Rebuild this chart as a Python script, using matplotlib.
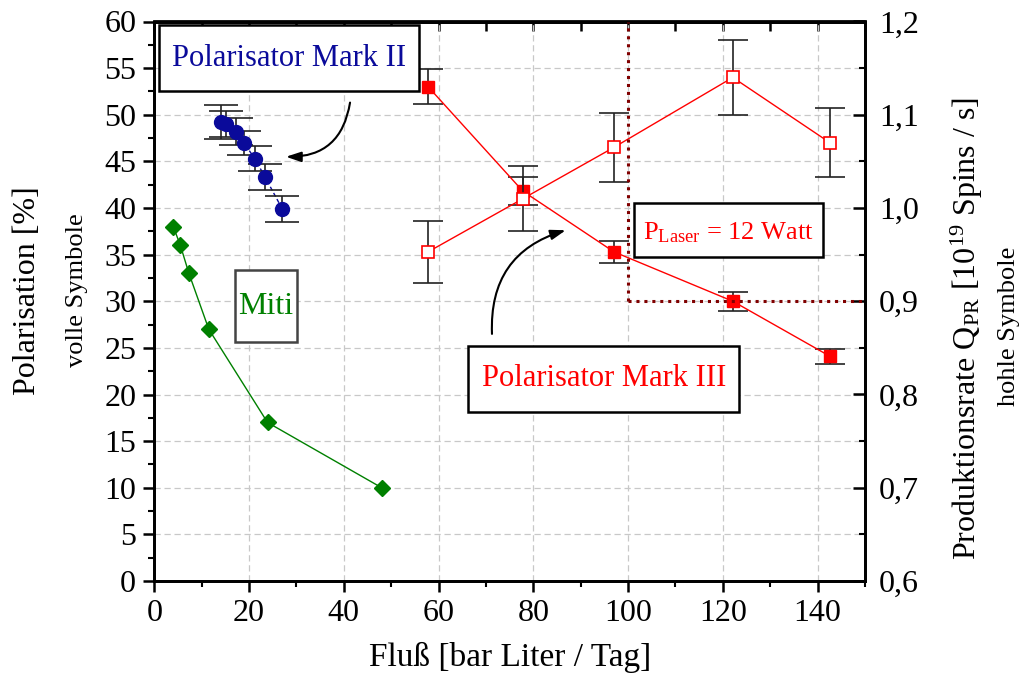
import matplotlib
matplotlib.use("Agg")
import matplotlib.pyplot as plt
from matplotlib.ticker import MultipleLocator, FuncFormatter, NullFormatter
from matplotlib.patches import Rectangle

plt.rcParams['font.family'] = ['Liberation Serif', 'DejaVu Serif']
plt.rcParams['mathtext.fontset'] = 'custom'
plt.rcParams['mathtext.rm'] = 'Liberation Serif'
plt.rcParams['mathtext.it'] = 'Liberation Serif:italic'

# Polarisator Mark II (filled circles, left axis)
mk2_flow = [14.0, 15.2, 17.2, 18.9, 21.2, 23.4, 27.0]
mk2_pol = [49.2, 49.0, 48.2, 47.0, 45.3, 43.3, 39.9]
mk2_err = [1.8, 1.4, 1.4, 1.3, 1.3, 1.4, 1.4]

# Miti (filled diamonds, left axis)
miti_flow = [4.0, 5.5, 7.3, 11.5, 23.9, 48.0]
miti_pol = [38, 36, 33, 27, 17, 10]

# Polarisator Mark III, polarisation (filled squares, left axis)
mk3_flow = [57.8, 77.8, 97.0, 122.1, 142.6]
mk3_pol = [53.0, 41.8, 35.3, 30.0, 24.1]
mk3_pol_err = [1.9, 1.5, 1.2, 1.0, 0.8]

# Polarisator Mark III, production rate (open squares, right axis)
mk3_rate = [0.953, 1.010, 1.065, 1.140, 1.070]
mk3_rate_err = [0.033, 0.035, 0.037, 0.040, 0.037]

laser_flow = 100
laser_rate = 0.9

navy = '#0a0a9a'
green = '#008000'
red = '#ff0000'
darkred = '#800000'

fig = plt.figure(figsize=(10.23, 6.74), dpi=100)
ax = fig.add_axes([154.3 / 1023, 1 - 581 / 674, (865 - 154.3) / 1023, (581 - 21.5) / 674])
ax2 = ax.twinx()

ax.set_xlim(0, 150)
ax.set_ylim(0, 60)
ax2.set_ylim(0.6, 1.2)

ax.grid(True, which='major', color='#c8c8c8', linestyle=(0, (5, 3)), linewidth=0.9)
ax.set_axisbelow(True)

# data
ax.plot(mk2_flow, mk2_pol, color=navy, lw=1, ls=(0, (3, 2)), zorder=3)
ax.errorbar(mk2_flow, mk2_pol, yerr=mk2_err, fmt='o', color=navy, ms=10,
            ecolor='#222222', elinewidth=1.2, capsize=12, capthick=1.2, zorder=4)
ax.plot(miti_flow, miti_pol, color=green, lw=1, marker='D', ms=8, zorder=4)
ax.errorbar(mk3_flow, mk3_pol, yerr=mk3_pol_err, fmt='s-', color=red, lw=1, ms=8,
            ecolor='#222222', elinewidth=1.2, capsize=11, capthick=1.2, zorder=4)
ax2.errorbar(mk3_flow, mk3_rate, yerr=mk3_rate_err, fmt='s-', color=red, lw=1, ms=9,
             mfc='white', mec=red, mew=1.2,
             ecolor='#222222', elinewidth=1.2, capsize=11, capthick=1.2, zorder=4)

# laser marker lines
ax2.plot([laser_flow, laser_flow], [laser_rate, 1.2], color=darkred, lw=2.2, ls=(0, (1, 1.6)), zorder=5)
ax2.plot([laser_flow, 150], [laser_rate, laser_rate], color=darkred, lw=2.2, ls=(0, (1, 1.6)), zorder=5)

# axes styling
for a in (ax, ax2):
    for s in a.spines.values():
        s.set_linewidth(2)
ax.xaxis.set_major_locator(MultipleLocator(20))
ax.xaxis.set_minor_locator(MultipleLocator(10))
ax.yaxis.set_major_locator(MultipleLocator(5))
ax.yaxis.set_minor_locator(MultipleLocator(2.5))
ax2.yaxis.set_major_locator(MultipleLocator(0.1))
ax2.yaxis.set_minor_locator(MultipleLocator(0.05))
ax2.yaxis.set_major_formatter(FuncFormatter(lambda v, p: f"{v:.1f}".replace('.', ',')))

ax.tick_params(axis='both', which='major', direction='out', length=8, width=1.8,
               labelsize=23, pad=5)
ax.tick_params(axis='both', which='minor', direction='out', length=4, width=1.5)
ax2.tick_params(axis='y', which='major', direction='in', length=9, width=1.8, labelsize=23, pad=10)
ax2.tick_params(axis='y', which='minor', direction='in', length=4, width=1.5)

# top axis: inward ticks every 10, no labels
top = ax.secondary_xaxis('top')
top.xaxis.set_major_locator(MultipleLocator(10))
top.xaxis.set_major_formatter(NullFormatter())
top.tick_params(direction='in', length=7, width=1.8)
top.spines['top'].set_linewidth(2)

# labels
fig.text(510 / 1023, 1 - 657 / 674, 'Fluß [bar Liter / Tag]', ha='center', va='center', fontsize=24)
fig.text(28 / 1023, 1 - 291 / 674, 'Polarisation [%]', rotation=90, ha='center', va='center', fontsize=23)
fig.text(77 / 1023, 1 - 290 / 674, 'volle Symbole', rotation=90, ha='center', va='center', fontsize=19)
fig.text(967 / 1023, 1 - 329 / 674, r'Produktionsrate Q$_{\mathrm{PR}}$ [10$^{19}$ Spins / s]',
         rotation=90, ha='center', va='center', fontsize=23)
fig.text(1009 / 1023, 1 - 326 / 674, 'hohle Symbole', rotation=90, ha='center', va='center', fontsize=19)

# annotation boxes
def box(x0, x1, y0, y1, text, color, size, tx, ty, ec='black'):
    ax.add_patch(Rectangle((x0, y0), x1 - x0, y1 - y0, facecolor='white', edgecolor=ec,
                           lw=1.8, zorder=6))
    ax.text(tx, ty, text, color=color, fontsize=size, ha='center', va='center', zorder=7)

box(1.06, 55.8, 52.6, 59.6, 'Polarisator Mark II', navy, 22, 28.4, 56.0)
box(17.0, 30.1, 25.6, 33.4, 'Miti', green, 23, 23.6, 29.4, ec='#444444')
box(101.2, 141.1, 34.7, 40.5, r'P$_{\mathrm{Laser}}$ = 12 Watt', red, 19, 121.1, 37.4)
box(66.3, 123.5, 18.1, 25.2, 'Polarisator Mark III', red, 22, 95.0, 21.7)

arrow = dict(arrowstyle='-|>,head_length=0.9,head_width=0.3', color='black', lw=1.5)
ax.annotate('', xy=(27.2, 45.5), xytext=(41.4, 51.6),
            arrowprops=dict(connectionstyle='arc3,rad=-0.45', **arrow), zorder=8)
ax.annotate('', xy=(87.4, 37.7), xytext=(71.3, 26.2),
            arrowprops=dict(connectionstyle='arc3,rad=-0.4', **arrow), zorder=8)

fig.savefig('out.png', dpi=100)
